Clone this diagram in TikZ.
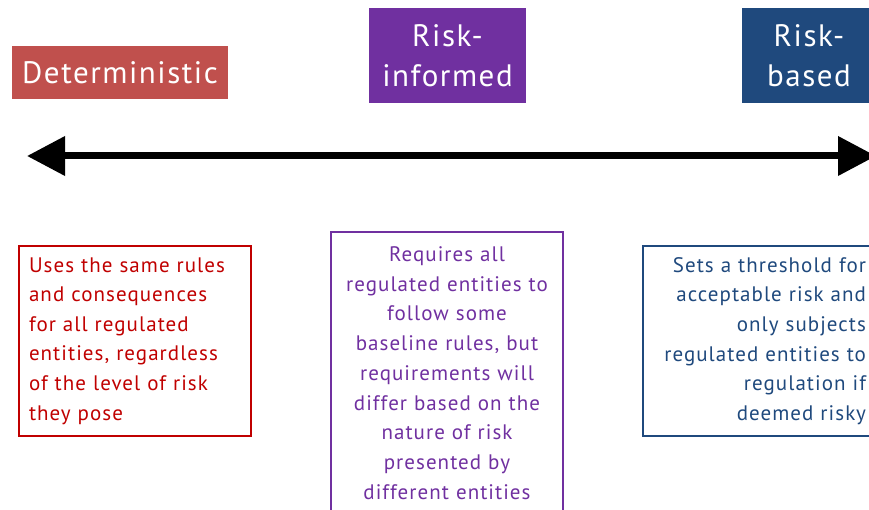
\documentclass[tikz,border=0pt]{standalone}
\usepackage{fontspec}
\setmainfont{PT Sans}[LetterSpace=5]
\usetikzlibrary{arrows.meta}
\definecolor{detred}{HTML}{C0504D}
\definecolor{infpurple}{HTML}{7030A0}
\definecolor{basblue}{HTML}{1F497D}
\definecolor{txtred}{HTML}{C00000}
\tikzset{
  title/.style={fill=#1, text=white, inner sep=0pt, font=\fontsize{31}{40}\selectfont, align=center},
  desc/.style={draw=#1, text=#1, line width=2pt, inner ysep=0pt, font=\fontsize{21}{29.6}\selectfont},
  spectrum/.style={line width=7pt, {Triangle[length=38pt,width=38pt]}-{Triangle[length=38pt,width=38pt]}}
}
\begin{document}
\begin{tikzpicture}[x=1pt,y=-1pt]
\useasboundingbox (0,0) rectangle (869,510);
\clip (0,0) rectangle (869,510);
% titles
\node[title=detred, minimum width=216pt, minimum height=53pt] (det) at (120,72.5) {Deterministic};
\node[title=infpurple, minimum width=157pt, minimum height=95pt] (inf) at (447.5,55.5) {Risk-\\informed};
\node[title=basblue, minimum width=134pt, minimum height=95pt, text width=134pt] (bas) at (809,55.5) {Risk-\\based};
% arrow
\coordinate (L) at (27,156);
\coordinate (R) at (876,156);
\draw[spectrum] (L) -- (R);
% descriptions
\node[desc=txtred, minimum width=230pt, minimum height=190pt, text width=212pt, inner xsep=10pt, align=left] (d1) at (135,341)
 {\rule{0pt}{0pt}\raisebox{0pt}{}Uses the same rules\\and consequences\\for all regulated\\entities, regardless\\of the level of risk\\they pose};
\node[desc=infpurple, minimum width=232pt, minimum height=282pt, text width=226pt, inner xsep=3pt, align=center] (d2) at (447,373)
 {\fontsize{21}{29.75}\selectfont Requires all\\regulated entities to\\follow some\\baseline rules, but\\requirements will\\differ based on the\\nature of risk\\presented by\\different entities};
\node[desc=basblue, minimum width=237pt, minimum height=190pt, text width=209pt, inner xsep=14pt, align=right] (d3) at (761.5,341)
 {Sets a threshold for\\acceptable risk and\\only subjects\\regulated entities to\\regulation if\\deemed risky};
\end{tikzpicture}
\end{document}
